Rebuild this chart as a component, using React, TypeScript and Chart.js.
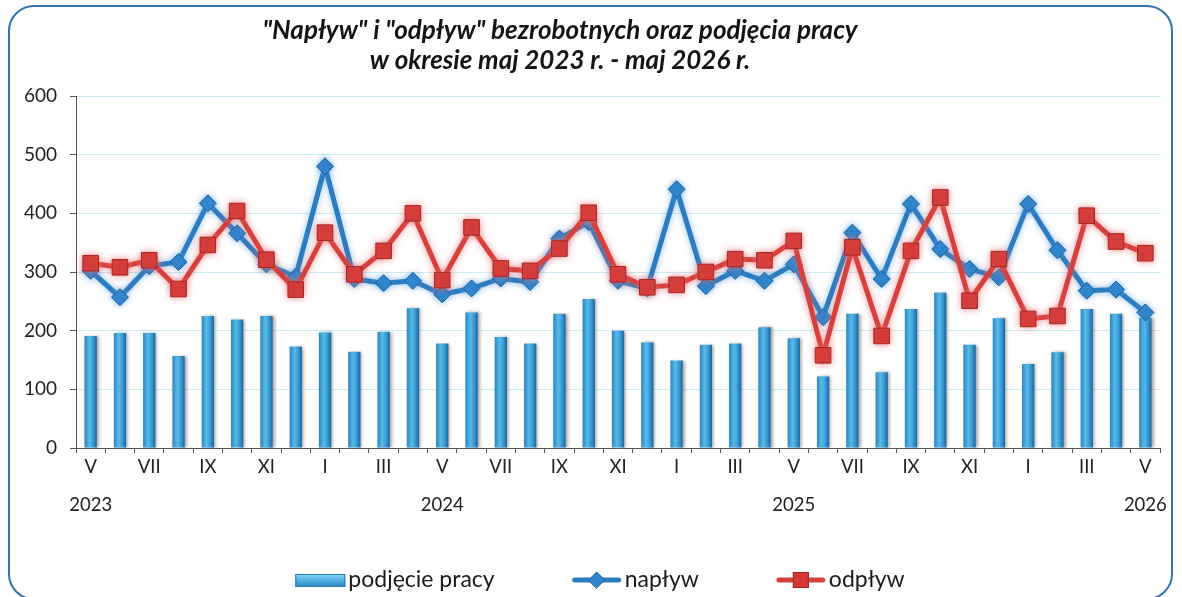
import React, { useEffect, useRef } from "react";
import { Chart, registerables } from "chart.js";

Chart.register(...registerables);

const months = ["V","VI","VII","VIII","IX","X","XI","XII","I","II","III","IV","V","VI","VII","VIII","IX","X","XI","XII","I","II","III","IV","V","VI","VII","VIII","IX","X","XI","XII","I","II","III","IV","V"];
const years = ["2023","","","","","","","","","","","","2024","","","","","","","","","","","","2025","","","","","","","","","","","","2026"];

const podjeciePracy = [191,196,196,157,225,219,225,173,197,164,198,238,178,231,189,178,229,254,200,180,149,176,178,206,187,122,229,129,237,265,176,221,143,163,237,229,222];
const naplyw = [302,257,310,317,417,366,313,292,480,288,281,285,262,272,289,283,357,385,285,272,441,276,302,285,313,223,367,288,416,339,305,291,416,337,268,270,231];
const odplyw = [315,308,320,271,346,404,321,270,367,296,336,400,286,376,306,302,340,401,296,274,278,300,322,320,353,158,342,191,336,427,251,322,220,225,396,352,332];

const yTicks = [0, 100, 200, 300, 400, 500, 600];

const titleLines = ['"Napływ" i "odpływ" bezrobotnych oraz podjęcia pracy', "w okresie maj 2023 r. - maj 2026 r."];
const legendNames = ["podjęcie pracy", "napływ", "odpływ"];

const FONT = "Lato, 'Open Sans', sans-serif";
const BAR_PCT = 0.42;
const BLUE = "#2c7cc1";
const RED = "#d6413e";

function barGradient(ctx: CanvasRenderingContext2D, x0: number, x1: number) {
  const g = ctx.createLinearGradient(x0, 0, x1, 0);
  g.addColorStop(0, "#2786c4");
  g.addColorStop(0.4, "#5bb9e7");
  g.addColorStop(0.7, "#379bd5");
  g.addColorStop(1, "#1b659e");
  return g;
}

function drawDiamond(ctx: CanvasRenderingContext2D, x: number, y: number, r: number) {
  ctx.beginPath();
  ctx.moveTo(x - r, y);
  ctx.lineTo(x, y - r);
  ctx.lineTo(x + r, y);
  ctx.lineTo(x, y + r);
  ctx.closePath();
  ctx.fillStyle = "#2f84cc";
  ctx.fill();
  ctx.strokeStyle = "#1b5c94";
  ctx.lineWidth = 1;
  ctx.stroke();
}

const decorPlugin = {
  id: "decor",
  beforeDatasetDraw(chart: any, args: any) {
    const ctx = chart.ctx;
    ctx.save();
    const i = args.index;
    if (i === 0) {
      ctx.shadowColor = "rgba(0,0,0,0.35)";
      ctx.shadowBlur = 3;
      ctx.shadowOffsetX = 2;
      ctx.shadowOffsetY = 0;
    } else if (i === 1) {
      ctx.shadowColor = "rgba(90,160,225,0.7)";
      ctx.shadowBlur = 6;
    } else {
      ctx.shadowColor = "rgba(235,110,110,0.75)";
      ctx.shadowBlur = 7;
    }
  },
  afterDatasetDraw(chart: any) {
    chart.ctx.restore();
  },
  afterDraw(chart: any) {
    const ctx: CanvasRenderingContext2D = chart.ctx;
    ctx.save();
    // title
    ctx.fillStyle = "#151515";
    ctx.textAlign = "center";
    ctx.textBaseline = "middle";
    ctx.font = `italic bold 26px ${FONT}`;
    ctx.fillText(titleLines[0], 560, 31);
    ctx.fillText(titleLines[1], 560, 61);

    // legend
    ctx.font = `23px ${FONT}`;
    const sw = 50;
    const gapText = 3;
    const gapItem = 77;
    const widths = legendNames.map((n) => ctx.measureText(n).width);
    const total = widths.reduce((a, w) => a + sw + gapText + w, 0) + gapItem * 2;
    let x = 600 - total / 2;
    const y = 580;
    legendNames.forEach((name, i) => {
      if (i === 0) {
        const g = ctx.createLinearGradient(0, y - 6, 0, y + 7);
        g.addColorStop(0, "#8fd3f2");
        g.addColorStop(0.5, "#4fb0e0");
        g.addColorStop(1, "#2a86c2");
        ctx.fillStyle = g;
        ctx.fillRect(x, y - 6, sw, 13);
        ctx.strokeStyle = "#2a7ab5";
        ctx.lineWidth = 1;
        ctx.strokeRect(x + 0.5, y - 5.5, sw - 1, 12);
      } else {
        ctx.strokeStyle = i === 1 ? BLUE : RED;
        ctx.lineWidth = 5;
        ctx.lineCap = "round";
        ctx.beginPath();
        ctx.moveTo(x + 3, y);
        ctx.lineTo(x + sw - 3, y);
        ctx.stroke();
        if (i === 1) {
          drawDiamond(ctx, x + sw / 2, y, 8);
        } else {
          ctx.fillStyle = "#d33a38";
          ctx.fillRect(x + sw / 2 - 8, y - 8, 16, 16);
          ctx.strokeStyle = "#a52525";
          ctx.lineWidth = 1;
          ctx.strokeRect(x + sw / 2 - 7.5, y - 7.5, 15, 15);
        }
      }
      ctx.fillStyle = "#1a1a1a";
      ctx.textAlign = "left";
      ctx.textBaseline = "middle";
      ctx.fillText(name, x + sw + gapText, y);
      x += sw + gapText + widths[i] + gapItem;
    });
    ctx.restore();
  },
};

export default function App() {
  const canvasRef = useRef<HTMLCanvasElement | null>(null);

  useEffect(() => {
    document.body.style.margin = "0";
    const canvas = canvasRef.current;
    if (!canvas) return;
    const chart = new Chart(canvas, {
      type: "bar",
      data: {
        labels: months,
        datasets: [
          {
            type: "bar",
            label: legendNames[0],
            data: podjeciePracy,
            order: 3,
            barPercentage: BAR_PCT,
            categoryPercentage: 1,
            borderWidth: 0,
            backgroundColor: (c: any) => {
              const ch = c.chart;
              const xs = ch && ch.scales && ch.scales.x;
              const area = ch && ch.chartArea;
              if (!xs || !area || c.dataIndex === undefined) return "#3a9ad4";
              const cx = xs.getPixelForValue(c.dataIndex);
              if (!isFinite(cx)) return "#3a9ad4";
              const w = ((area.right - area.left) / months.length) * BAR_PCT;
              return barGradient(ch.ctx, cx - w / 2, cx + w / 2);
            },
          },
          {
            type: "line",
            label: legendNames[1],
            data: naplyw,
            order: 2,
            borderColor: BLUE,
            borderWidth: 5,
            pointStyle: "rectRot",
            pointRadius: 8.5,
            pointBackgroundColor: "#2f84cc",
            pointBorderColor: "#1b5c94",
            pointBorderWidth: 1,
            tension: 0,
          },
          {
            type: "line",
            label: legendNames[2],
            data: odplyw,
            order: 1,
            borderColor: RED,
            borderWidth: 5,
            pointStyle: "rect",
            pointRadius: 11,
            pointBackgroundColor: "#d33a38",
            pointBorderColor: "#a52525",
            pointBorderWidth: 1,
            tension: 0,
          },
        ],
      },
      options: {
        animation: false,
        responsive: false,
        maintainAspectRatio: false,
        layout: { padding: { left: 0, right: 22, top: 96, bottom: 0 } },
        plugins: {
          legend: { display: false },
          title: { display: false },
          tooltip: { enabled: false },
        },
        scales: {
          x: {
            offset: true,
            grid: {
              offset: true,
              drawOnChartArea: false,
              drawTicks: true,
              tickLength: 5,
              tickColor: "#555",
            },
            border: { display: true, color: "#555", width: 1 },
            afterFit: (s: any) => {
              s.height = 597 - 448;
            },
            ticks: {
              autoSkip: false,
              maxRotation: 0,
              minRotation: 0,
              padding: -5,
              color: "#222",
              font: { family: FONT, size: 18.5, lineHeight: 2.05 },
              callback: (_v: any, i: number) => {
                if (i % 2 !== 0) return "";
                return years[i] ? [months[i], years[i]] : months[i];
              },
            },
          },
          y: {
            min: yTicks[0],
            max: yTicks[yTicks.length - 1],
            afterBuildTicks: (s: any) => {
              s.ticks = yTicks.map((v) => ({ value: v }));
            },
            afterFit: (s: any) => {
              s.width = 76;
            },
            grid: {
              color: "#c6eff5",
              lineWidth: 1,
              drawTicks: true,
              tickLength: 6,
              tickColor: "#555",
            },
            border: { display: true, color: "#555", width: 1 },
            ticks: {
              padding: 13,
              color: "#222",
              font: { family: FONT, size: 19 },
            },
          },
        },
      },
      plugins: [decorPlugin],
    } as any);
    return () => chart.destroy();
  }, []);

  return (
    <div style={{ position: "relative", width: 1182, height: 597, overflow: "hidden", background: "#fff" }}>
      <div
        style={{
          position: "absolute",
          left: 8,
          top: 5,
          width: 1161,
          height: 591,
          border: "2px solid #3672aa",
          borderRadius: 26,
          boxSizing: "content-box",
        }}
      />
      <canvas ref={canvasRef} width={1182} height={597} style={{ position: "absolute", left: 0, top: 0, width: 1182, height: 597 }} />
    </div>
  );
}
